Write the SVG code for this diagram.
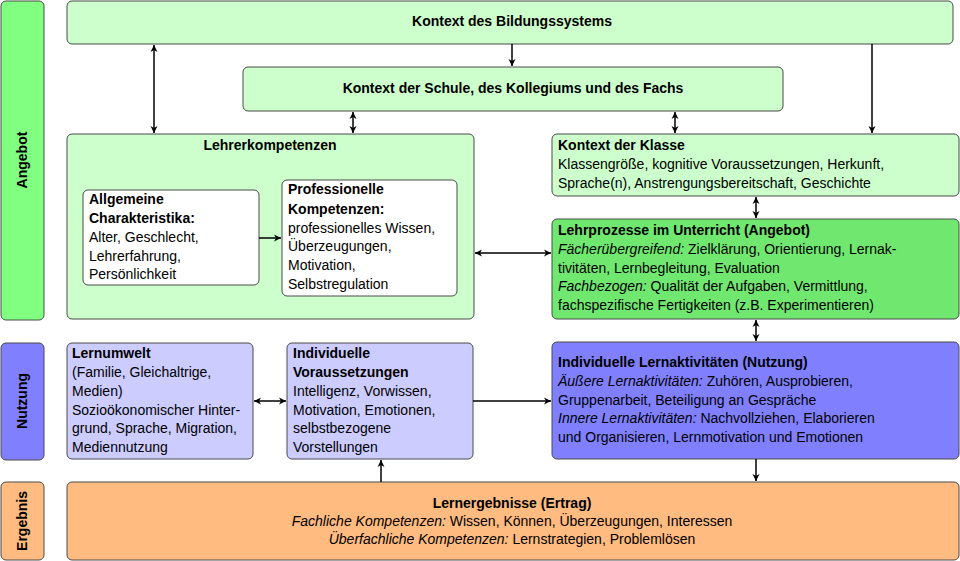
<svg xmlns="http://www.w3.org/2000/svg" width="960" height="561" viewBox="0 0 960 561">
<defs>
<marker id="ah" markerWidth="8" markerHeight="8" refX="7" refY="4" orient="auto-start-reverse" markerUnits="userSpaceOnUse">
<path d="M0,0.5 L7,4 L0,7.5 L2,4 Z" fill="#000"/>
</marker>
</defs>
<style>
.b{stroke:#4a4a4a;stroke-width:1}
.lg{fill:#ccffcc}
.g{fill:#80ff80}
.mg{fill:#70e870}
.lb{fill:#ccccff}
.bl{fill:#8080ff}
.or{fill:#ffbb80}
.w{fill:#ffffff}
text{font-family:"Liberation Sans","DejaVu Sans",sans-serif;font-size:14px;fill:#000}
.t{font-weight:bold}
.i{font-style:italic}
.c{stroke:#000;stroke-width:1.5;fill:none}
</style>
<g id="side-angebot"><rect class="b g" x="1" y="1" width="43" height="319" rx="5"/><text class="t" transform="translate(27,160) rotate(-90)" text-anchor="middle">Angebot</text></g>
<g id="side-nutzung"><rect class="b bl" x="1" y="343" width="43" height="117" rx="5"/><text class="t" transform="translate(27,401) rotate(-90)" text-anchor="middle">Nutzung</text></g>
<g id="side-ergebnis"><rect class="b or" x="1" y="482" width="43" height="78" rx="5"/><text class="t" transform="translate(27,521) rotate(-90)" text-anchor="middle">Ergebnis</text></g>

<g id="bildungssystem"><rect class="b lg" x="67" y="1" width="886" height="43" rx="5"/><text class="t" x="512" y="26" text-anchor="middle">Kontext des Bildungssystems</text></g>
<g id="schule"><rect class="b lg" x="243" y="67" width="540" height="44" rx="5"/><text class="t" x="513" y="93" text-anchor="middle">Kontext der Schule, des Kollegiums und des Fachs</text></g>

<g id="lehrerkompetenzen"><rect class="b lg" x="67" y="134" width="407" height="185" rx="5"/><text class="t" x="270" y="150" text-anchor="middle">Lehrerkompetenzen</text></g>
<g id="allgemeine"><rect class="b w" x="83" y="190" width="176" height="95" rx="5"/>
<text x="89" y="204"><tspan class="t">Allgemeine</tspan><tspan class="t" x="89" dy="19">Charakteristika:</tspan><tspan x="89" dy="19">Alter, Geschlecht,</tspan><tspan x="89" dy="19">Lehrerfahrung,</tspan><tspan x="89" dy="18">Persönlichkeit</tspan></text></g>
<g id="professionelle"><rect class="b w" x="282" y="180" width="175" height="116" rx="5"/>
<text x="288" y="194"><tspan class="t">Professionelle</tspan><tspan class="t" x="288" dy="19.5">Kompetenzen:</tspan><tspan x="288" dy="19">professionelles Wissen,</tspan><tspan x="288" dy="18.5">Überzeugungen,</tspan><tspan x="288" dy="18.5">Motivation,</tspan><tspan x="288" dy="19">Selbstregulation</tspan></text></g>

<g id="klasse"><rect class="b lg" x="552" y="134" width="407" height="62" rx="5"/>
<text x="558" y="150"><tspan class="t">Kontext der Klasse</tspan><tspan x="558" dy="18.5">Klassengröße, kognitive Voraussetzungen, Herkunft,</tspan><tspan x="558" dy="19">Sprache(n), Anstrengungsbereitschaft, Geschichte</tspan></text></g>

<g id="lehrprozesse"><rect class="b mg" x="552" y="219" width="407" height="100" rx="5"/>
<text x="558" y="235"><tspan class="t">Lehrprozesse im Unterricht (Angebot)</tspan><tspan class="i" x="558" dy="19">Fächerübergreifend:</tspan><tspan> Zielklärung, Orientierung, Lernak-</tspan><tspan x="558" dy="18.5">tivitäten, Lernbegleitung, Evaluation</tspan><tspan class="i" x="558" dy="18.5">Fachbezogen:</tspan><tspan> Qualität der Aufgaben, Vermittlung,</tspan><tspan x="558" dy="18.5">fachspezifische Fertigkeiten (z.B. Experimentieren)</tspan></text></g>

<g id="lernumwelt"><rect class="b lb" x="67" y="343" width="186" height="116" rx="5"/>
<text x="72" y="358"><tspan class="t">Lernumwelt</tspan><tspan x="72" dy="19">(Familie, Gleichaltrige,</tspan><tspan x="72" dy="19">Medien)</tspan><tspan x="72" dy="18.5">Sozioökonomischer Hinter-</tspan><tspan x="72" dy="18.5">grund, Sprache, Migration,</tspan><tspan x="72" dy="18.5">Mediennutzung</tspan></text></g>

<g id="voraussetzungen"><rect class="b lb" x="287" y="343" width="186" height="116" rx="5"/>
<text x="293" y="358"><tspan class="t">Individuelle</tspan><tspan class="t" x="293" dy="19">Voraussetzungen</tspan><tspan x="293" dy="19">Intelligenz, Vorwissen,</tspan><tspan x="293" dy="18.5">Motivation, Emotionen,</tspan><tspan x="293" dy="18.5">selbstbezogene</tspan><tspan x="293" dy="18.5">Vorstellungen</tspan></text></g>

<g id="lernaktivitaeten"><rect class="b bl" x="552" y="342" width="407" height="117" rx="5"/>
<text x="558" y="367"><tspan class="t">Individuelle Lernaktivitäten (Nutzung)</tspan><tspan class="i" x="558" dy="19">Äußere Lernaktivitäten:</tspan><tspan> Zuhören, Ausprobieren,</tspan><tspan x="558" dy="18.5">Gruppenarbeit, Beteiligung an Gespräche</tspan><tspan class="i" x="558" dy="18.5">Innere Lernaktivitäten:</tspan><tspan> Nachvollziehen, Elaborieren</tspan><tspan x="558" dy="18.5">und Organisieren, Lernmotivation und Emotionen</tspan></text></g>

<g id="lernergebnisse"><rect class="b or" x="67" y="482" width="892" height="78" rx="5"/>
<text x="512" y="508" text-anchor="middle"><tspan class="t">Lernergebnisse (Ertrag)</tspan><tspan x="512" dy="18"><tspan class="i">Fachliche Kompetenzen:</tspan> Wissen, Können, Überzeugungen, Interessen</tspan><tspan x="512" dy="18"><tspan class="i">Überfachliche Kompetenzen:</tspan> Lernstrategien, Problemlösen</tspan></text></g>

<g id="connectors">
<path class="c" d="M154,45 V133" marker-start="url(#ah)" marker-end="url(#ah)"/>
<path class="c" d="M512,44 V66" marker-end="url(#ah)"/>
<path class="c" d="M872,44 V133" marker-end="url(#ah)"/>
<path class="c" d="M353,112 V133" marker-start="url(#ah)" marker-end="url(#ah)"/>
<path class="c" d="M675,112 V133" marker-start="url(#ah)" marker-end="url(#ah)"/>
<path class="c" d="M756,197 V218" marker-start="url(#ah)" marker-end="url(#ah)"/>
<path class="c" d="M259,238 H281" marker-end="url(#ah)"/>
<path class="c" d="M475,253 H551" marker-start="url(#ah)" marker-end="url(#ah)"/>
<path class="c" d="M756,320 V341" marker-start="url(#ah)" marker-end="url(#ah)"/>
<path class="c" d="M254,401 H286" marker-start="url(#ah)" marker-end="url(#ah)"/>
<path class="c" d="M473,401 H551" marker-end="url(#ah)"/>
<path class="c" d="M756,459 V481" marker-end="url(#ah)"/>
<path class="c" d="M381,482 V460" marker-end="url(#ah)"/>
</g>
</svg>
